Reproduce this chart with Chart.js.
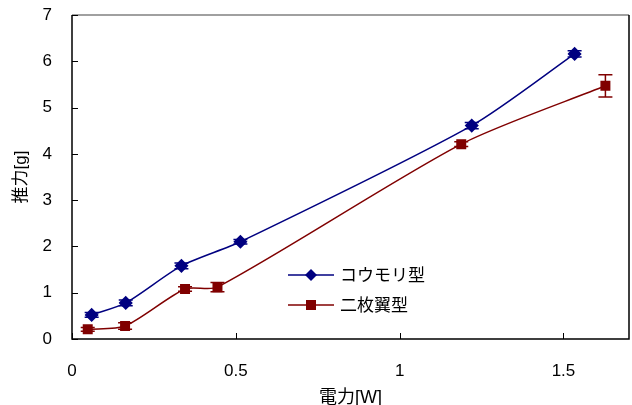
<!DOCTYPE html>
<html>
<head>
<meta charset="utf-8">
<script src="https://cdn.jsdelivr.net/npm/chart.js@4/dist/chart.umd.min.js"></script>
<style>
  html, body { margin: 0; padding: 0; background: #fff; }
  #wrap { width: 632px; height: 405px; }
</style>
</head>
<body>
<div id="wrap"><canvas id="cv" width="632" height="405"></canvas></div>
<script>
/* data */
const batX   = [0.060, 0.164, 0.334, 0.514, 1.220, 1.534];
const batY   = [0.52, 0.78, 1.58, 2.10, 4.61, 6.16];
const batErr = [0.05, 0.06, 0.06, 0.05, 0.07, 0.07];

const twoX   = [0.048, 0.162, 0.345, 0.444, 1.188, 1.628];
const twoY   = [0.21, 0.28, 1.08, 1.12, 4.21, 5.47];
const twoErr = [0.04, 0.07, 0.05, 0.10, 0.05, 0.24];

const seriesNames = ["コウモリ型", "二枚翼型"];
const xTicks = [0, 0.5, 1, 1.5];
const yTicks = [0, 1, 2, 3, 4, 5, 6, 7];

const BLUE = "#000080";
const RED  = "#800000";
const FONT = "'Liberation Sans', Arial, 'Noto Sans CJK JP', sans-serif";

function pts(xs, ys) {
    return xs.map((x, i) => ({x: x, y: ys[i]}));
}

/* no extra label padding around the plot */
function noPad(s) {
    s.paddingLeft = 0; s.paddingRight = 0;
    s.paddingTop = 0; s.paddingBottom = 0;
}

/* frame, inner ticks, error bars, legend */
const decor = {
    id: "decor",
    afterDatasetsDraw(chart) {
        const ctx = chart.ctx;
        const a = chart.chartArea;
        const xs = chart.scales.x, ys = chart.scales.y;
        ctx.save();

        /* error bars */
        const errs = [batErr, twoErr];
        chart.data.datasets.forEach((ds, di) => {
            ctx.strokeStyle = ds.borderColor;
            ctx.lineWidth = 1.5;
            ds.data.forEach((p, i) => {
                const px = xs.getPixelForValue(p.x);
                const y1 = ys.getPixelForValue(p.y + errs[di][i]);
                const y2 = ys.getPixelForValue(p.y - errs[di][i]);
                ctx.beginPath();
                ctx.moveTo(px, y1); ctx.lineTo(px, y2);
                ctx.moveTo(px - 7, y1); ctx.lineTo(px + 7, y1);
                ctx.moveTo(px - 7, y2); ctx.lineTo(px + 7, y2);
                ctx.stroke();
            });
        });

        /* frame */
        ctx.lineWidth = 1.5;
        ctx.strokeStyle = "#808080";
        ctx.beginPath();
        ctx.moveTo(a.left, a.top); ctx.lineTo(a.right, a.top);
        ctx.stroke();
        ctx.strokeStyle = "#000";
        ctx.beginPath();
        ctx.moveTo(a.right, a.top); ctx.lineTo(a.right, a.bottom);
        ctx.lineTo(a.left, a.bottom); ctx.lineTo(a.left, a.top);
        ctx.stroke();

        /* inner ticks */
        ctx.lineWidth = 1;
        ctx.beginPath();
        xTicks.forEach(v => {
            const px = Math.round(xs.getPixelForValue(v)) + 0.5;
            ctx.moveTo(px, a.bottom); ctx.lineTo(px, a.bottom - 6);
        });
        yTicks.forEach(v => {
            const py = Math.round(ys.getPixelForValue(v)) + 0.5;
            ctx.moveTo(a.left, py); ctx.lineTo(a.left + 6, py);
        });
        ctx.stroke();

        /* legend inside plot */
        const lx = 288, lw = 46, tx = 340;
        const rows = [275, 305];
        chart.data.datasets.forEach((ds, di) => {
            const ly = rows[di];
            ctx.strokeStyle = ds.borderColor;
            ctx.lineWidth = 1.5;
            ctx.beginPath();
            ctx.moveTo(lx, ly); ctx.lineTo(lx + lw, ly);
            ctx.stroke();
            ctx.fillStyle = ds.borderColor;
            const mx = lx + lw / 2;
            if (ds.pointStyle === "rectRot") {
                ctx.beginPath();
                ctx.moveTo(mx, ly - 6); ctx.lineTo(mx + 6, ly);
                ctx.lineTo(mx, ly + 6); ctx.lineTo(mx - 6, ly);
                ctx.closePath(); ctx.fill();
            } else {
                ctx.fillRect(mx - 5, ly - 5, 10, 10);
            }
            ctx.fillStyle = "#000";
            ctx.font = "17px " + FONT;
            ctx.textBaseline = "middle";
            ctx.textAlign = "left";
            ctx.fillText(ds.label, tx, ly + 1);
        });
        ctx.restore();
    }
};

new Chart(document.getElementById("cv"), {
    type: "line",
    data: {
        datasets: [
            {
                label: seriesNames[0],
                data: pts(batX, batY),
                borderColor: BLUE,
                backgroundColor: BLUE,
                borderWidth: 1.5,
                pointStyle: "rectRot",
                pointRadius: 6,
                tension: 0.25
            },
            {
                label: seriesNames[1],
                data: pts(twoX, twoY),
                borderColor: RED,
                backgroundColor: RED,
                borderWidth: 1.5,
                pointStyle: "rect",
                pointRadius: 6,
                tension: 0.25
            }
        ]
    },
    options: {
        responsive: false,
        animation: false,
        layout: {
            autoPadding: false,
            padding: { top: 15, right: 3, left: 11, bottom: 0 }
        },
        plugins: {
            legend: { display: false },
            tooltip: { enabled: false }
        },
        scales: {
            x: {
                type: "linear",
                min: 0,
                max: 1.7,
                afterBuildTicks: s => { s.ticks = xTicks.map(v => ({value: v})); },
                afterFit: s => { s.height = 66; noPad(s); },
                grid: { display: false },
                border: { display: false },
                ticks: {
                    padding: 14,
                    color: "#000",
                    font: { family: FONT, size: 17 },
                    callback: v => String(v)
                },
                title: {
                    display: true,
                    text: "電力[W]",
                    color: "#000",
                    font: { family: FONT, size: 18, lineHeight: 0.75 },
                    padding: { top: 0, bottom: 0 }
                }
            },
            y: {
                min: 0,
                max: 7,
                afterBuildTicks: s => { s.ticks = yTicks.map(v => ({value: v})); },
                afterFit: s => { s.width = 61; noPad(s); },
                grid: { display: false },
                border: { display: false },
                ticks: {
                    padding: 12,
                    color: "#000",
                    font: { family: FONT, size: 17 }
                },
                title: {
                    display: true,
                    text: "推力[g]",
                    color: "#000",
                    font: { family: FONT, size: 17 },
                    padding: { top: 0, bottom: 0 }
                }
            }
        }
    },
    plugins: [decor]
});
</script>
</body>
</html>
